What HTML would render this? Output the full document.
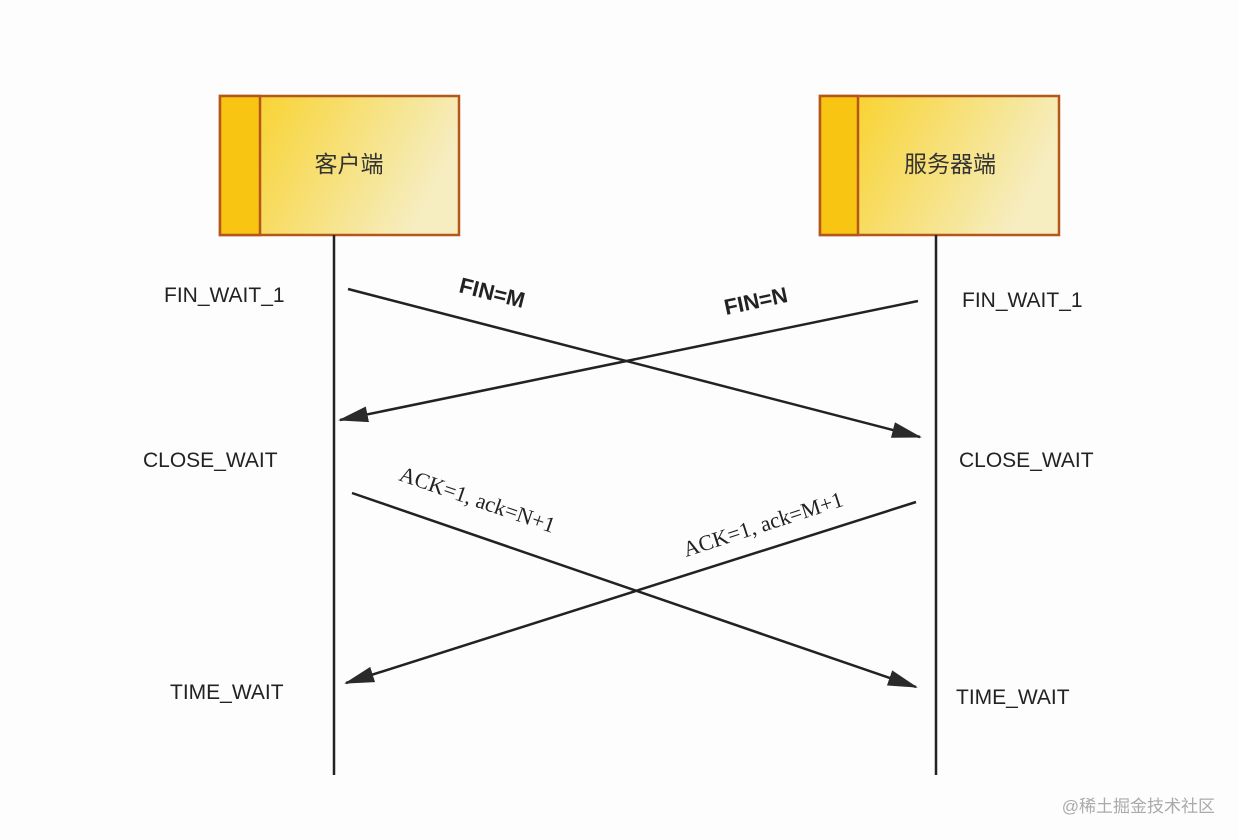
<!DOCTYPE html>
<html><head><meta charset="utf-8"><style>
html,body{margin:0;padding:0;background:#fdfdfd;}
svg{display:block;}
</style></head><body>
<svg width="1238" height="840" viewBox="0 0 1238 840" xmlns="http://www.w3.org/2000/svg">
<defs>
<linearGradient id="g" x1="0" y1="0" x2="1" y2="0.3">
<stop offset="0" stop-color="#f8cf1a"/><stop offset="1" stop-color="#f6edc0"/>
</linearGradient>
<marker id="a" markerWidth="30" markerHeight="20" refX="28" refY="8" orient="auto" markerUnits="userSpaceOnUse">
<path d="M0,0 L30,8 L0,16 Z" fill="#2a2a2a"/>
</marker>
</defs>
<rect width="1238" height="840" fill="#fdfdfd"/>
<!-- client box -->
<rect x="220" y="96" width="239" height="139" fill="url(#g)" stroke="#b5561a" stroke-width="2.5"/>
<rect x="220" y="96" width="40" height="139" fill="#f8c612" stroke="#b5561a" stroke-width="2.5"/>
<text x="349" y="172" font-family="'Liberation Sans','Noto Sans CJK SC',sans-serif" font-size="23" fill="#333" text-anchor="middle">客户端</text>
<!-- server box -->
<rect x="820" y="96" width="239" height="139" fill="url(#g)" stroke="#b5561a" stroke-width="2.5"/>
<rect x="820" y="96" width="38" height="139" fill="#f8c612" stroke="#b5561a" stroke-width="2.5"/>
<text x="950" y="172" font-family="'Liberation Sans','Noto Sans CJK SC',sans-serif" font-size="23" fill="#333" text-anchor="middle">服务器端</text>
<!-- lifelines -->
<line x1="334" y1="235" x2="334" y2="775" stroke="#222" stroke-width="2.5"/>
<line x1="936" y1="235" x2="936" y2="775" stroke="#222" stroke-width="2.5"/>
<!-- arrows -->
<g stroke="#222" stroke-width="2.5" fill="none">
<line x1="348" y1="289" x2="920" y2="437" marker-end="url(#a)"/>
<line x1="918" y1="301" x2="340" y2="420" marker-end="url(#a)"/>
<line x1="352" y1="493" x2="916" y2="687" marker-end="url(#a)"/>
<line x1="916" y1="502" x2="346" y2="683" marker-end="url(#a)"/>
</g>
<!-- state labels -->
<g font-family="'Liberation Sans',sans-serif" font-size="21" fill="#222">
<text x="164" y="302">FIN_WAIT_1</text>
<text x="962" y="307">FIN_WAIT_1</text>
<text x="143" y="467">CLOSE_WAIT</text>
<text x="959" y="467">CLOSE_WAIT</text>
<text x="170" y="699">TIME_WAIT</text>
<text x="956" y="704">TIME_WAIT</text>
</g>
<!-- message labels -->
<text transform="translate(458,292) rotate(14)" font-family="'Liberation Sans',sans-serif" font-weight="bold" font-size="22" fill="#222">FIN=M</text>
<text transform="translate(726,315) rotate(-12)" font-family="'Liberation Sans',sans-serif" font-weight="bold" font-size="22" fill="#222">FIN=N</text>
<text transform="translate(398,480) rotate(19)" font-family="'Liberation Serif',serif" font-size="22" fill="#222">ACK=1, ack=N+1</text>
<text transform="translate(686,557) rotate(-18)" font-family="'Liberation Serif',serif" font-size="22" fill="#222">ACK=1, ack=M+1</text>
<!-- watermark -->
<text x="1215" y="812" text-anchor="end" font-family="'Liberation Sans','Noto Sans CJK SC',sans-serif" font-size="17" fill="#aaa">@稀土掘金技术社区</text>
</svg>
</body></html>
